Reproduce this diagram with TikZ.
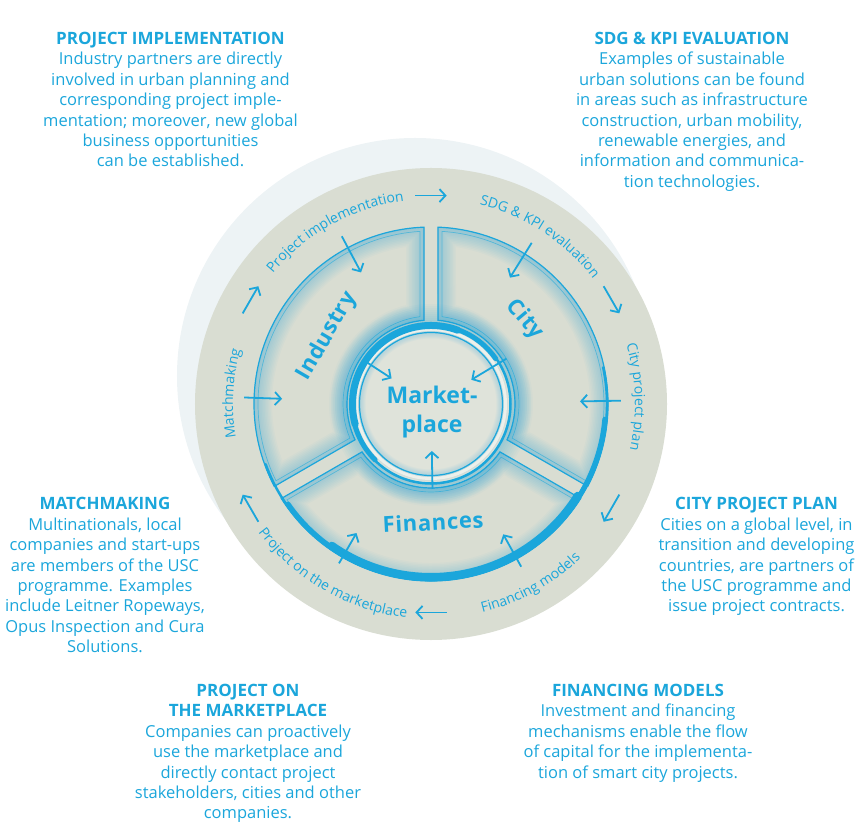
\documentclass[tikz,border=0pt]{standalone}
\usepackage{fontspec}
\setmainfont{Open Sans}
\newfontfamily\segfont[LetterSpace=3]{Open Sans}
\usetikzlibrary{arrows.meta,decorations.text}

\definecolor{cblue}{RGB}{27,166,219}
\definecolor{diskc}{RGB}{217,221,210}
\definecolor{shadowc}{RGB}{237,243,245}
\definecolor{corec}{RGB}{223,227,218}

\newcommand{\ringfont}{\fontsize{14}{16}\selectfont}
\newcommand{\bodyfont}{\fontsize{16.5}{20.4}\selectfont}
\newcommand{\headfont}{\fontsize{17}{20.4}\selectfont\bfseries}
% one segment of the wheel: start angle, end angle, inset
\newcommand{\ringseg}[3]{({#1+asin((7+#3)/(177-#3))}:{177-#3})
  arc[start angle={#1+asin((7+#3)/(177-#3))}, end angle={#2-asin((7+#3)/(177-#3))}, radius={177-#3}]
  -- ({#2-asin((7+#3)/(84+#3))}:{84+#3})
  arc[start angle={#2-asin((7+#3)/(84+#3))}, end angle={#1+asin((7+#3)/(84+#3))}, radius={84+#3}]
  -- cycle}

\tikzset{
  flow/.style={cblue, line width=1.8pt, -{Straight Barb[length=6pt,width=13pt]}},
  glow/.style={cblue, opacity=#1},
  infotext/.style={text=cblue, align=center, inner sep=0pt, anchor=north, font=\bodyfont},
  seglabel/.style={text=cblue, inner sep=0pt, font=\segfont\bfseries\fontsize{22}{24}\selectfont},
  marketlabel/.style={text=cblue, inner sep=0pt, align=center, font=\bfseries\fontsize{23}{29}\selectfont},
  ringlabel/.style={decorate, decoration={text along path, text align=center, text color=cblue}},
}

\begin{document}
\begin{tikzpicture}[x=1pt, y=1pt]
\useasboundingbox (-431,-425) rectangle (427,404);
\fill[shadowc] (-16,28) circle (238);
\fill[diskc] (0,0) circle (236);

\foreach \s/\e in {90/210, 210/330, -30/90} {
  \begin{scope}
    \clip \ringseg{\s}{\e}{0};
    \foreach \w in {3,6,...,36}
      \draw[glow=0.03, line width=\w pt] \ringseg{\s}{\e}{0};
  \end{scope}
  \draw[cblue, line width=1.2pt] \ringseg{\s}{\e}{0};
  \draw[cblue!70!diskc, line width=0.7pt] \ringseg{\s}{\e}{4};
}

\draw[cblue, line width=2.5pt, line cap=round] (200:176) arc[start angle=200, end angle=372, radius=176];
\draw[cblue, line width=5pt, line cap=round] (215:174.5) arc[start angle=215, end angle=355, radius=174.5];
\draw[cblue, line width=8pt, line cap=round] (235:173) arc[start angle=235, end angle=328, radius=173];

\foreach \w in {4,8,...,40}
  \draw[glow=0.035, line width=\w pt] (0,0) circle (80);
\fill[corec] (0,0) circle (79);
\foreach \w in {2,4,...,12}
  \draw[glow=0.04, line width=\w pt] (0,0) circle (71.5);
\draw[white!45!corec, line width=3pt] (0,0) circle (74.5);
\draw[cblue, line width=2.5pt] (0,0) circle (79.5);
\draw[cblue, line width=5pt, line cap=round] (35:79) arc[start angle=35, end angle=225, radius=79];
\draw[cblue, line width=7pt, line cap=round] (70:78.5) arc[start angle=70, end angle=195, radius=78.5];
\draw[cblue, line width=1.2pt] (0,0) circle (71.5);

\node[seglabel, rotate=60] (industry) at (147:124) {Industry};
\node[seglabel, rotate=-50] (city) at (42:126) {City};
\node[seglabel, rotate=3] (finances) at (271:118) {Finances};
\node[marketlabel] (market) at (1,-8) {Market-\\place};

\path[ringlabel, decoration={text={|\ringfont|Project implementation}}] (149:205) arc[start angle=149, end angle=89, radius=205];
\path[ringlabel, decoration={text={|\ringfont|SDG {\&} KPI evaluation}}] (87:205) arc[start angle=87, end angle=27, radius=205];
\path[ringlabel, decoration={text={|\ringfont|City project plan}}] (32:204) arc[start angle=32, end angle=-28, radius=204];
\path[ringlabel, decoration={text={|\ringfont|Matchmaking}}] (207:198) arc[start angle=207, end angle=147, radius=198];
\path[ringlabel, decoration={text={|\ringfont|Financing models}}] (-96:215) arc[start angle=-96, end angle=-26, radius=215];
\path[ringlabel, decoration={text={|\ringfont|Project on the marketplace}}] (200:215) arc[start angle=200, end angle=280, radius=215];

\foreach \a [count=\i] in {90,30,-30,-90,-150,150} {
  \coordinate (cyc\i a) at ({\a+4.3}:209);
  \coordinate (cyc\i b) at ({\a-4.3}:209);
  \draw[flow] (cyc\i a) -- (cyc\i b);
}
\foreach \a/\rr/\nm in {118/190/impl, 58/190/sdg, 1/190/plan, -61/186/fin, 240/184/mkt, 178/187/match} {
  \coordinate (\nm out) at (\a:\rr);
  \coordinate (\nm in) at (\a:149);
  \draw[flow] (\nm out) -- (\nm in);
}
\foreach \a/\rr/\nm in {147/79/ind, 31/88/cty, 271/85/fnc} {
  \coordinate (\nm out) at (\a:\rr);
  \coordinate (\nm in) at (\a:47);
  \draw[flow] (\nm out) -- (\nm in);
}

\node[infotext] (implinfo) at (-260.5,372) {{\headfont PROJECT IMPLEMENTATION}\\Industry partners are directly\\involved in urban planning and\\corresponding project imple-\\mentation; moreover, new global\\business opportunities\\can be established.};
\node[infotext] (sdginfo) at (261,372) {{\headfont SDG \& KPI EVALUATION}\\Examples of sustainable\\urban solutions can be found\\in areas such as infrastructure\\construction, urban mobility,\\renewable energies, and\\information and communica-\\tion technologies.};
\node[infotext] (matchinfo) at (-326,-93.3) {{\headfont MATCHMAKING}\\Multinationals, local\\companies and start-ups\\are members of the USC\\programme. Examples\\include Leitner Ropeways,\\Opus Inspection and Cura\\Solutions.};
\node[infotext] (planinfo) at (325.5,-93.3) {{\headfont CITY PROJECT PLAN}\\Cities on a global level, in\\transition and developing\\countries, are partners of\\the USC programme and\\issue project contracts.};
\node[infotext] (mktinfo) at (-183,-280) {{\headfont PROJECT ON}\\{\headfont THE MARKETPLACE}\\Companies can proactively\\use the marketplace and\\directly contact project\\stakeholders, cities and other\\companies.};
\node[infotext] (fininfo) at (207,-280) {{\headfont FINANCING MODELS}\\Investment and financing\\mechanisms enable the flow\\of capital for the implementa-\\tion of smart city projects.};
\end{tikzpicture}
\end{document}
